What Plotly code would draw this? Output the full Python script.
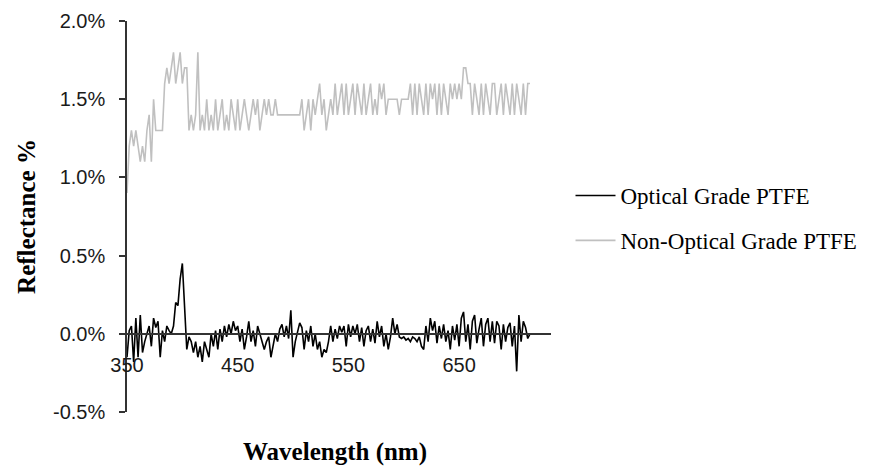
import plotly.graph_objects as go

# Wavelengths (nm), 2 nm steps
wavelength = list(range(350, 716, 2))

# Reflectance (%) - Optical Grade PTFE
optical = [
    -0.15, 0.02, 0.05, -0.18, 0.10, -0.15, 0.12, -0.12, -0.05, 0.00,
    0.05, -0.08, 0.10, 0.04, 0.08, -0.15, 0.02, -0.05, 0.05, 0.02,
    0.00, 0.05, 0.20, 0.18, 0.35, 0.45, 0.20, -0.10, -0.02, -0.05,
    -0.12, -0.05, -0.15, -0.08, -0.18, -0.05, -0.10, -0.15, 0.00, -0.08,
    0.02, -0.10, 0.03, -0.05, 0.05, -0.02, 0.06, 0.00, 0.08, 0.02,
    0.05, -0.05, 0.03, -0.10, -0.02, 0.08, -0.05, 0.02, -0.08, 0.05,
    0.00, -0.05, -0.10, -0.05, -0.02, -0.15, -0.08, 0.00, -0.05, 0.03,
    0.06, -0.02, 0.05, -0.03, 0.15, -0.15, -0.05, 0.02, 0.07, 0.04,
    -0.10, 0.02, -0.05, 0.05, -0.08, 0.00, -0.10, -0.05, -0.15, -0.10,
    -0.12, -0.05, 0.05, -0.05, 0.03, -0.03, 0.05, 0.01, 0.05, -0.08,
    0.06, -0.02, 0.05, 0.00, 0.06, -0.05, 0.04, -0.08, 0.02, 0.05,
    -0.05, 0.03, -0.06, 0.08, -0.02, 0.05, -0.08, 0.00, -0.10, -0.02,
    0.10, 0.00, 0.06, -0.02, -0.03, -0.02, -0.04, -0.03, -0.05, -0.02,
    -0.03, -0.05, -0.02, -0.08, -0.10, 0.05, -0.05, 0.10, 0.02, 0.08,
    -0.06, 0.05, -0.03, 0.06, -0.05, 0.02, -0.10, 0.05, -0.04, 0.06,
    -0.08, 0.10, 0.14, -0.05, 0.06, -0.10, 0.08, 0.12, -0.06, 0.03,
    0.10, -0.08, 0.06, 0.10, -0.05, 0.08, -0.06, 0.08, 0.05, -0.10,
    0.06, -0.05, 0.04, 0.07, -0.08, 0.05, -0.24, 0.12, -0.05, 0.08,
    0.04, -0.03, 0.00,
]

# Reflectance (%) - Non-Optical Grade PTFE
non_optical = [
    0.9, 1.2, 1.3, 1.2, 1.3, 1.2, 1.1, 1.2, 1.1, 1.3,
    1.4, 1.1, 1.5, 1.3, 1.3, 1.3, 1.3, 1.6, 1.7, 1.6,
    1.7, 1.8, 1.6, 1.7, 1.8, 1.6, 1.7, 1.7, 1.3, 1.4,
    1.3, 1.4, 1.8, 1.3, 1.4, 1.3, 1.5, 1.3, 1.4, 1.3,
    1.5, 1.3, 1.4, 1.5, 1.3, 1.4, 1.3, 1.5, 1.4, 1.3,
    1.5, 1.3, 1.4, 1.5, 1.4, 1.3, 1.4, 1.5, 1.4, 1.5,
    1.3, 1.4, 1.5, 1.4, 1.5, 1.4, 1.4, 1.5, 1.4, 1.4,
    1.4, 1.4, 1.4, 1.4, 1.4, 1.4, 1.4, 1.4, 1.4, 1.5,
    1.3, 1.4, 1.5, 1.3, 1.5, 1.4, 1.5, 1.6, 1.4, 1.5,
    1.3, 1.4, 1.5, 1.4, 1.6, 1.4, 1.5, 1.6, 1.4, 1.6,
    1.4, 1.5, 1.6, 1.4, 1.6, 1.5, 1.4, 1.6, 1.4, 1.5,
    1.6, 1.4, 1.5, 1.4, 1.6, 1.5, 1.6, 1.4, 1.5, 1.5,
    1.5, 1.5, 1.5, 1.4, 1.5, 1.5, 1.5, 1.5, 1.6, 1.4,
    1.6, 1.4, 1.6, 1.5, 1.4, 1.6, 1.4, 1.6, 1.5, 1.6,
    1.4, 1.6, 1.4, 1.6, 1.5, 1.4, 1.6, 1.5, 1.6, 1.5,
    1.6, 1.5, 1.7, 1.7, 1.6, 1.6, 1.4, 1.6, 1.5, 1.4,
    1.6, 1.4, 1.6, 1.5, 1.4, 1.6, 1.6, 1.4, 1.5, 1.6,
    1.4, 1.6, 1.5, 1.4, 1.6, 1.4, 1.6, 1.5, 1.4, 1.6,
    1.4, 1.6, 1.6,
]

x_tick_vals = [350, 450, 550, 650]
x_tick_text = ["350", "450", "550", "650"]
y_tick_vals = [-0.5, 0.0, 0.5, 1.0, 1.5, 2.0]
y_tick_text = ["-0.5%", "0.0%", "0.5%", "1.0%", "1.5%", "2.0%"]

series_names = ["Optical Grade PTFE", "Non-Optical Grade PTFE"]

Y_MIN, Y_MAX = -0.5, 2.0

fig = go.Figure()
fig.add_trace(go.Scatter(x=wavelength, y=optical, mode="lines", name=series_names[0],
                         legendgroup="a", line=dict(color="#000000", width=1.6)))
fig.add_trace(go.Scatter(x=wavelength, y=non_optical, mode="lines", name=series_names[1],
                         legendgroup="b", line=dict(color="#c0c0c0", width=1.6)))

axis_col = "#333333"
fig.update_layout(
    width=874, height=468,
    margin=dict(l=127, r=320, t=21, b=56),
    paper_bgcolor="white", plot_bgcolor="white",
    showlegend=True,
    legend=dict(x=1.046, y=0.496, xanchor="left", yanchor="middle",
                font=dict(family="Liberation Serif", size=23, color="#000000"),
                tracegroupgap=12, traceorder="grouped", itemwidth=40,
                bgcolor="rgba(0,0,0,0)"),
    xaxis=dict(range=[350, 733], tickvals=x_tick_vals, ticktext=x_tick_text,
               showgrid=False, zeroline=False, showline=True, linecolor=axis_col,
               linewidth=1.5, ticks="", anchor="free", automargin=False,
               position=(0 - Y_MIN) / (Y_MAX - Y_MIN),
               ticklabelstandoff=13,
               tickfont=dict(family="Liberation Sans", size=20, color="#1a1a1a")),
    yaxis=dict(range=[Y_MIN, Y_MAX], tickvals=y_tick_vals, ticktext=y_tick_text,
               showgrid=False, zeroline=False, showline=True, linecolor=axis_col,
               linewidth=1.5, ticks="outside", ticklen=6, tickcolor=axis_col,
               tickwidth=1.5, ticklabelstandoff=10, automargin=False,
               tickfont=dict(family="Liberation Sans", size=20, color="#1a1a1a"),
               title=dict(text="<b>Reflectance %</b>", standoff=10,
                          font=dict(family="Liberation Serif", size=25, color="#000000"))),
    annotations=[dict(text="<b>Wavelength (nm)</b>", xref="paper", yref="paper",
                      x=0.49, y=-0.102, xanchor="center", yanchor="middle",
                      showarrow=False,
                      font=dict(family="Liberation Serif", size=25, color="#000000"))],
)

fig.write_html("out.html", config={"displayModeBar": False},
               post_script="document.body.style.margin='0';document.body.style.overflow='hidden';")
